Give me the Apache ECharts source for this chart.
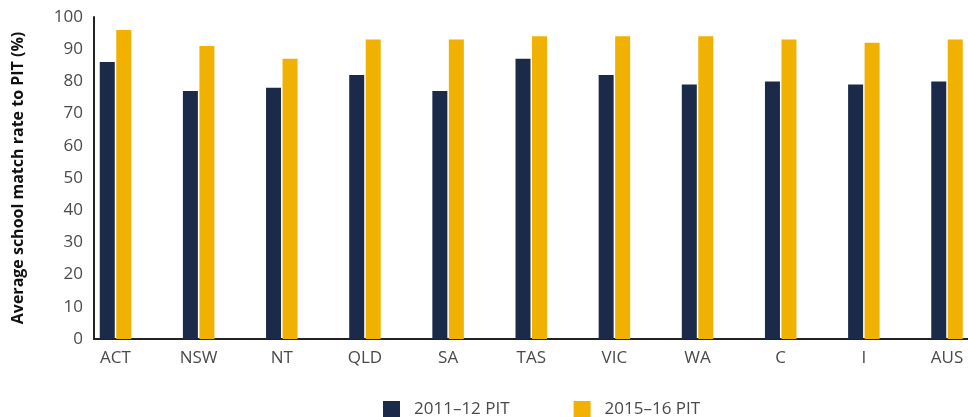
<!DOCTYPE html>
<html>
<head>
    <meta charset="UTF-8">
    <title>School match rate to PIT</title>
    <script src="https://cdn.jsdelivr.net/npm/echarts@6/dist/echarts.min.js"></script>
</head>
<body style="margin:0;">
    <div id="bar" style="width:968px; height:417px;"></div>

    <script>
        var categories = ['ACT', 'NSW', 'NT', 'QLD', 'SA', 'TAS', 'VIC', 'WA', 'C', 'I', 'AUS'];
        var pit2011 = [86, 77, 78, 82, 77, 87, 82, 79, 80, 79, 80];
        var pit2015 = [96, 91, 87, 93, 93, 94, 94, 94, 93, 92, 93];
        var seriesNames = ['2011\u201312 PIT', '2015\u201316 PIT'];

        var font = '"Open Sans", "Noto Sans", sans-serif';
        var chart = echarts.init(document.getElementById('bar'), null, {renderer: 'canvas'});

        var option = {
            animation: false,
            textStyle: {fontFamily: font},
            // grid 0 carries the axis lines, grid 1 the bars (first/last category sit near the edges)
            grid: [
                {left: 94, right: 0, top: 17, bottom: 78},
                {left: 115.5, width: 831.5, top: 17, bottom: 78}
            ],
            legend: {
                left: 378,
                top: 396,
                itemWidth: 17,
                itemHeight: 17,
                itemGap: 64,
                icon: 'rect',
                textStyle: {fontSize: 17, color: '#4a4a4a', fontFamily: font, padding: [0, 0, 0, 9]},
                data: seriesNames
            },
            xAxis: [
                {
                    type: 'category', gridIndex: 0, data: [''],
                    axisLine: {lineStyle: {color: '#222', width: 2}},
                    axisTick: {show: false}, axisLabel: {show: false}
                },
                {
                    type: 'category', gridIndex: 1, data: categories, boundaryGap: false,
                    axisLine: {show: false}, axisTick: {show: false},
                    axisLabel: {fontSize: 17, color: '#4a4a4a', margin: 11, fontFamily: font}
                }
            ],
            yAxis: [
                {
                    type: 'value', gridIndex: 0, min: 0, max: 100, interval: 10,
                    name: 'Average school match rate to PIT (%)',
                    nameLocation: 'middle', nameGap: 68,
                    nameTextStyle: {fontSize: 16, fontWeight: 'bold', color: '#111', fontFamily: font},
                    axisLine: {show: true, lineStyle: {color: '#222', width: 2}},
                    axisTick: {show: false}, splitLine: {show: false},
                    axisLabel: {fontSize: 17, color: '#4a4a4a', margin: 11, fontFamily: font}
                },
                {
                    type: 'value', gridIndex: 1, min: 0, max: 100, interval: 10, show: false
                }
            ],
            series: [
                {
                    name: seriesNames[0], type: 'bar', xAxisIndex: 1, yAxisIndex: 1,
                    data: pit2011, barWidth: 15, barGap: '10%',
                    itemStyle: {color: '#1c2a4a'}
                },
                {
                    name: seriesNames[1], type: 'bar', xAxisIndex: 1, yAxisIndex: 1,
                    data: pit2015, barWidth: 15, barGap: '10%',
                    itemStyle: {color: '#f0b100'}
                }
            ]
        };

        chart.setOption(option);
    </script>
</body>
</html>
